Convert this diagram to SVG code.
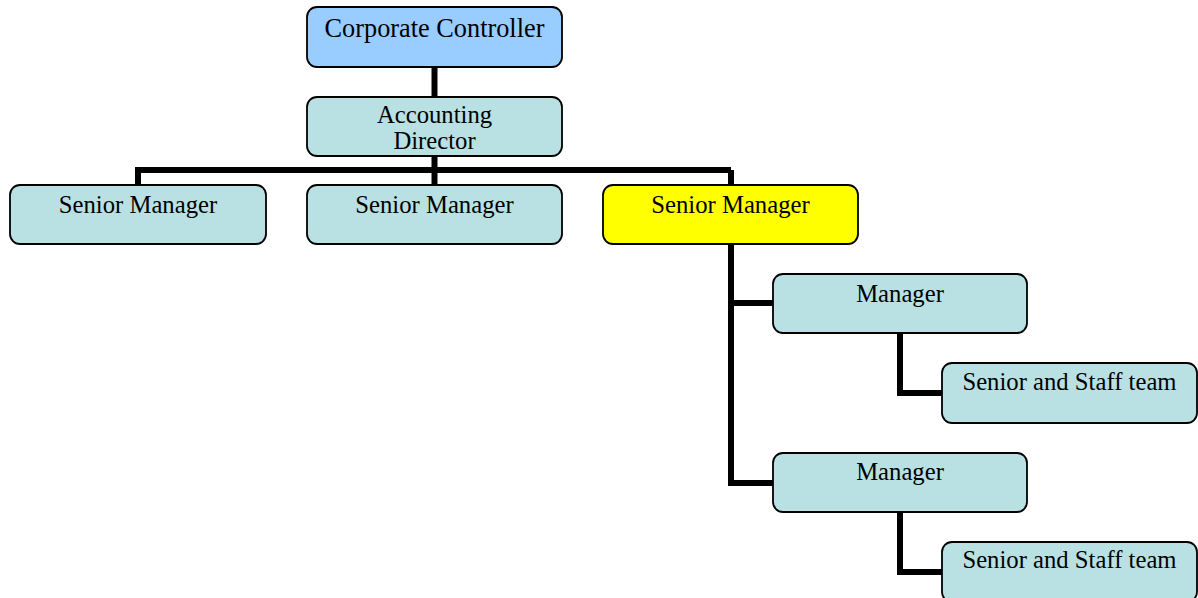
<svg xmlns="http://www.w3.org/2000/svg" width="1198" height="598" viewBox="0 0 1198 598">
  <style>
    .box { stroke: #000; stroke-width: 1.8; }
    .teal { fill: #b9e0e2; }
    .blue { fill: #99ccff; }
    .yellow { fill: #ffff00; }
    .lbl { font-family: "Liberation Serif", "Times New Roman", serif; font-size: 24.7px; fill: #000; text-anchor: middle; }
    .big { font-size: 26.3px; }
    .wire { fill: none; stroke: #000; stroke-width: 6; stroke-linejoin: miter; stroke-linecap: butt; }
  </style>
  <rect width="1198" height="598" fill="#fff"/>

  <!-- tree connectors -->
  <g id="connectors">
    <path class="wire" d="M434.5 67 V97"/>
    <path class="wire" d="M434.5 156 V170"/>
    <path class="wire" d="M138 185 V170 H731"/>
    <path class="wire" d="M434.5 170 V185"/>
    <path class="wire" d="M731 170 V185"/>
    <path class="wire" d="M731 244 V483 H773"/>
    <path class="wire" d="M731 303 H773"/>
    <path class="wire" d="M900 333 V393 H942"/>
    <path class="wire" d="M900 512 V572 H942"/>
  </g>

  <g id="corporate-controller">
    <rect class="box blue" x="307" y="7" width="255" height="60" rx="10"/>
    <text class="lbl big" x="434.5" y="37">Corporate Controller</text>
  </g>

  <g id="accounting-director">
    <rect class="box teal" x="307" y="97" width="255" height="59" rx="10"/>
    <text class="lbl" x="434.5" y="123">Accounting</text>
    <text class="lbl" x="434.5" y="149">Director</text>
  </g>

  <g id="senior-manager-1">
    <rect class="box teal" x="10" y="185" width="256" height="59" rx="10"/>
    <text class="lbl" x="138" y="213">Senior Manager</text>
  </g>

  <g id="senior-manager-2">
    <rect class="box teal" x="307" y="185" width="255" height="59" rx="10"/>
    <text class="lbl" x="434.5" y="213">Senior Manager</text>
  </g>

  <g id="senior-manager-3">
    <rect class="box yellow" x="603" y="185" width="255" height="59" rx="10"/>
    <text class="lbl" x="730.5" y="213">Senior Manager</text>
  </g>

  <g id="manager-1">
    <rect class="box teal" x="773" y="274" width="254" height="59" rx="10"/>
    <text class="lbl" x="900" y="302">Manager</text>
  </g>

  <g id="staff-team-1">
    <rect class="box teal" x="942" y="363" width="255" height="60" rx="10"/>
    <text class="lbl" x="1069.5" y="390">Senior and Staff team</text>
  </g>

  <g id="manager-2">
    <rect class="box teal" x="773" y="453" width="254" height="59" rx="10"/>
    <text class="lbl" x="900" y="480">Manager</text>
  </g>

  <g id="staff-team-2">
    <rect class="box teal" x="942" y="542" width="255" height="60" rx="10"/>
    <text class="lbl" x="1069.5" y="568">Senior and Staff team</text>
  </g>
</svg>
